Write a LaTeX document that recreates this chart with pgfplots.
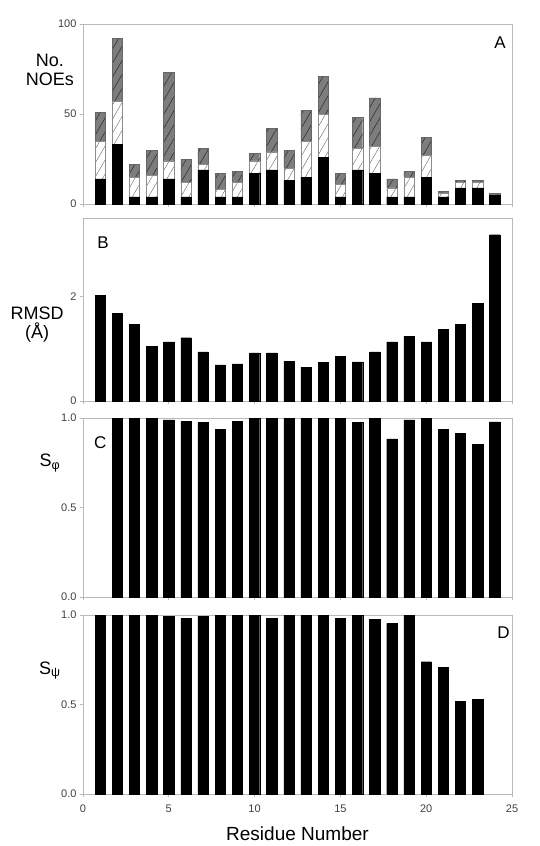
\documentclass[border=0pt]{standalone}
\usepackage{fontspec}
\setmainfont{Liberation Sans}
\usepackage{pgfplots}
\pgfplotsset{compat=1.18}
\usetikzlibrary{patterns.meta}

\definecolor{frameGray}{RGB}{185,185,185}
\definecolor{barGray}{RGB}{125,125,125}

\pgfplotsset{
  panel/.style={
    scale only axis, width=429pt, anchor=south west,
    xmin=0, xmax=25, xtick={0,5,...,25}, ymin=0,
    axis line style={frameGray, line width=0.7pt},
    tick style={frameGray, line width=0.7pt},
    tick align=outside, major tick length=3pt,
    xtick pos=bottom, ytick pos=left,
    ticklabel style={font=\fontsize{11}{12}\selectfont, text=black!75},
    /pgf/number format/assume math mode=true,
    ylabel style={rotate=-90, anchor=center, align=center,
      font=\fontsize{18}{19}\selectfont},
    bar width=0.6,
  },
  sfrac/.style={ytick={0,0.5,1}, ymax=1,
    yticklabel style={/pgf/number format/.cd, fixed, fixed zerofill, precision=1}},
}

\begin{document}
\begin{tikzpicture}
\useasboundingbox (0pt,0pt) rectangle (540pt,-846pt);

% A: NOE counts
\begin{axis}[panel, at={(83pt,-204pt)}, height=180pt,
    ybar stacked, ymax=100, ytick={0,50,100}, xticklabels={},
    ylabel={No.\\NOEs},
    ylabel style={at={(axis description cs:-0.077,0.744)}}]
\addplot[fill=black, draw=black] coordinates {
 (1,14) (2,33) (3,4) (4,4) (5,14) (6,4) (7,19) (8,4) (9,4) (10,17) (11,19) (12,13)
 (13,15) (14,26) (15,4) (16,19) (17,17) (18,4) (19,4) (20,15) (21,4) (22,9) (23,9) (24,5)};
\addplot[fill=white, draw=black!45,
    postaction={pattern={Lines[angle=60,distance=7pt,line width=0.4pt]}, pattern color=black!60}] coordinates {
 (1,21) (2,24) (3,11) (4,12) (5,10) (6,8) (7,3) (8,4) (9,8) (10,7) (11,10) (12,7)
 (13,20) (14,24) (15,7) (16,12) (17,15) (18,5) (19,11) (20,12) (21,2) (22,3) (23,3) (24,0)};
\addplot[fill=barGray, draw=black!60,
    postaction={pattern={Lines[angle=60,distance=7pt,line width=0.6pt]}, pattern color=black!80}] coordinates {
 (1,16) (2,35) (3,7) (4,14) (5,49) (6,13) (7,9) (8,9) (9,6) (10,4) (11,13) (12,10)
 (13,17) (14,21) (15,6) (16,17) (17,27) (18,5) (19,3) (20,10) (21,1) (22,1) (23,1) (24,1)};
\node[font=\fontsize{17}{18}\selectfont] at (rel axis cs:0.972,0.894) {A};
\end{axis}

% B: RMSD
\begin{axis}[panel, at={(83pt,-401pt)}, height=183pt,
    ybar, ymax=3.5, ytick={0,2}, xticklabels={},
    ylabel={RMSD\\(Å)},
    ylabel style={at={(axis description cs:-0.107,0.415)}}]
\addplot[fill=black, draw=black] coordinates {
 (1,2.02) (2,1.68) (3,1.47) (4,1.05) (5,1.13) (6,1.21) (7,0.94) (8,0.69) (9,0.71) (10,0.92)
 (11,0.92) (12,0.76) (13,0.65) (14,0.74) (15,0.85) (16,0.75) (17,0.94) (18,1.13) (19,1.23)
 (20,1.13) (21,1.37) (22,1.47) (23,1.87) (24,3.18)};
\node[font=\fontsize{17}{18}\selectfont] at (rel axis cs:0.047,0.863) {B};
\end{axis}

% C: S phi
\begin{axis}[panel, sfrac, at={(83pt,-597pt)}, height=179pt,
    ybar, xticklabels={},
    ylabel={S\textsubscript{φ}},
    ylabel style={at={(axis description cs:-0.077,0.75)}}]
\addplot[fill=black, draw=black] coordinates {
 (2,1.0) (3,1.0) (4,1.0) (5,0.99) (6,0.98) (7,0.976) (8,0.935) (9,0.983) (10,1.0) (11,1.0)
 (12,1.0) (13,1.0) (14,1.0) (15,1.0) (16,0.976) (17,1.0) (18,0.883) (19,0.99) (20,1.0)
 (21,0.938) (22,0.916) (23,0.851) (24,0.978)};
\node[font=\fontsize{17}{18}\selectfont] at (rel axis cs:0.04,0.86) {C};
\end{axis}

% D: S psi
\begin{axis}[panel, sfrac, at={(83pt,-794pt)}, height=179pt,
    ybar,
    xticklabel style={yshift=-4pt},
    xlabel={Residue Number},
    xlabel style={font=\fontsize{19}{20}\selectfont, yshift=-8pt},
    ylabel={S\textsubscript{ψ}},
    ylabel style={at={(axis description cs:-0.077,0.69)}}]
\addplot[fill=black, draw=black] coordinates {
 (1,1.0) (2,1.0) (3,1.0) (4,1.0) (5,0.994) (6,0.983) (7,0.994) (8,1.0) (9,1.0) (10,1.0)
 (11,0.983) (12,1.0) (13,1.0) (14,1.0) (15,0.981) (16,1.0) (17,0.976) (18,0.953) (19,1.0)
 (20,0.739) (21,0.708) (22,0.518) (23,0.529)};
\node[font=\fontsize{17}{18}\selectfont] at (rel axis cs:0.98,0.9) {D};
\end{axis}
\end{tikzpicture}
\end{document}
